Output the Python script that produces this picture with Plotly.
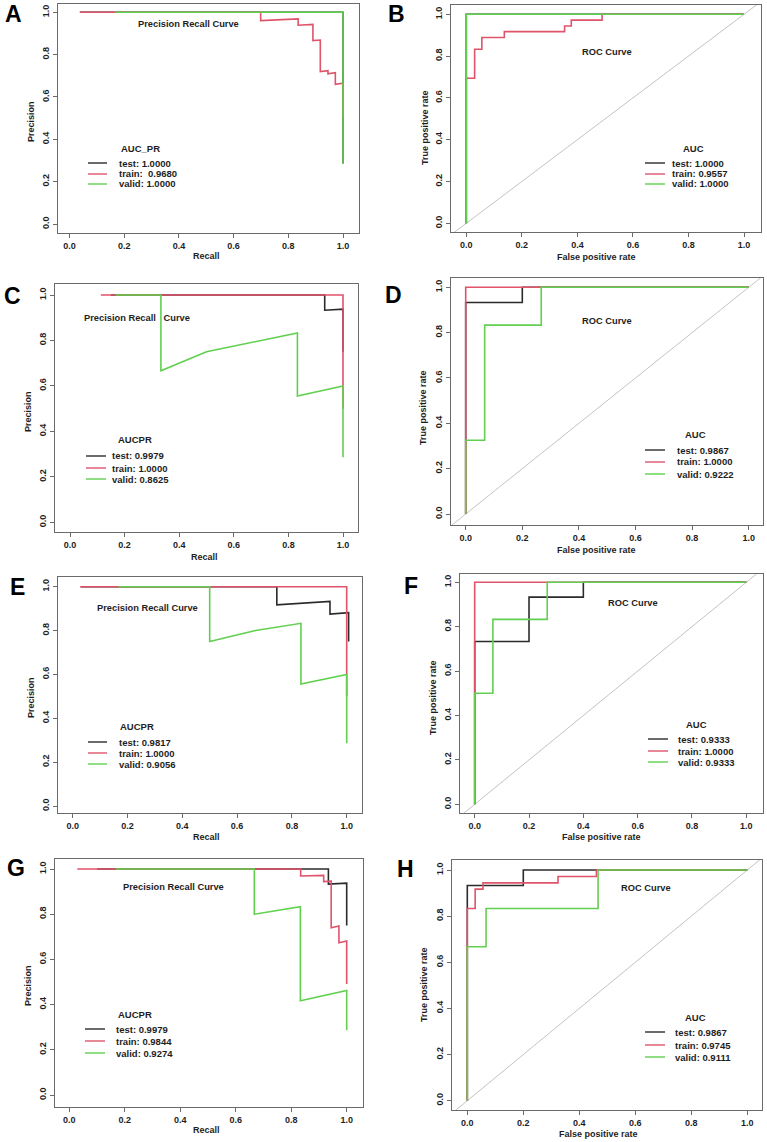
import plotly.graph_objects as go

W, H = 767, 1142

# ---------------- data ----------------
series_names = ["test", "train", "valid"]
tick_vals = [0, 0.2, 0.4, 0.6, 0.8, 1.0]
tick_text = ["0.0", "0.2", "0.4", "0.6", "0.8", "1.0"]
panel_letters = ["A", "B", "C", "D", "E", "F", "G", "H"]
panel_kinds = ["pr", "roc", "pr", "roc", "pr", "roc", "pr", "roc"]
panel_titles = ["Precision Recall Curve", "ROC Curve", "Precision Recall\u00a0\u00a0\u00a0Curve", "ROC Curve",
                "Precision Recall Curve", "ROC Curve", "Precision Recall Curve", "ROC Curve"]
legend_titles = ["AUC_PR", "AUC", "AUCPR", "AUC", "AUCPR", "AUC", "AUCPR", "AUC"]

# Panel A (PR)
a_test_x = [0.038, 1.0, 1.0]
a_test_y = [1.0, 1.0, 0.286]
a_train_x = [0.038, 0.699, 0.699, 0.836, 0.836, 0.890, 0.890, 0.917, 0.917, 0.945, 0.945, 0.972, 0.972, 1.0, 1.0]
a_train_y = [1.0, 1.0, 0.961, 0.969, 0.939, 0.943, 0.866, 0.869, 0.720, 0.724, 0.709, 0.715, 0.660, 0.665, 0.50]
a_valid_x = [0.167, 1.0, 1.0]
a_valid_y = [1.0, 1.0, 0.286]
a_auc = ["1.0000", "\u00a00.9680", "1.0000"]

# Panel B (ROC)
b_test_x = [0, 0, 1]
b_test_y = [0, 1, 1]
b_train_x = [0, 0, 0.030, 0.030, 0.056, 0.056, 0.137, 0.137, 0.354, 0.354, 0.378, 0.378, 0.489, 0.489, 1.0]
b_train_y = [0, 0.694, 0.694, 0.833, 0.833, 0.889, 0.889, 0.917, 0.917, 0.944, 0.944, 0.972, 0.972, 1.0, 1.0]
b_valid_x = [0, 0, 1]
b_valid_y = [0, 1, 1]
b_auc = ["1.0000", "0.9557", "1.0000"]

# Panel C (PR)
c_test_x = [0.15, 0.933, 0.933, 1.0, 1.0]
c_test_y = [1.0, 1.0, 0.933, 0.9375, 0.75]
c_train_x = [0.113, 1.0, 1.0]
c_train_y = [1.0, 1.0, 0.50]
c_valid_x = [0.167, 0.333, 0.333, 0.5, 0.833, 0.833, 1.0, 1.0]
c_valid_y = [1.0, 1.0, 0.667, 0.75, 0.833, 0.556, 0.6, 0.286]
c_auc = ["0.9979", "1.0000", "0.8625"]

# Panel D (ROC)
d_test_x = [0, 0, 0.2, 0.2, 1]
d_test_y = [0, 0.933, 0.933, 1, 1]
d_train_x = [0, 0, 1]
d_train_y = [0, 1, 1]
d_valid_x = [0, 0, 0.067, 0.067, 0.267, 0.267, 1]
d_valid_y = [0, 0.325, 0.325, 0.833, 0.833, 1, 1]
d_auc = ["0.9867", "1.0000", "0.9222"]

# Panel E (PR)
e_test_x = [0.03, 0.745, 0.745, 0.939, 0.939, 1.007, 1.007]
e_test_y = [1.0, 1.0, 0.917, 0.933, 0.875, 0.882, 0.75]
e_train_x = [0.027, 1.0, 1.0]
e_train_y = [1.0, 1.0, 0.50]
e_valid_x = [0.167, 0.5, 0.5, 0.667, 0.833, 0.833, 1.0, 1.0]
e_valid_y = [1.0, 1.0, 0.75, 0.8, 0.833, 0.556, 0.6, 0.286]
e_auc = ["0.9817", "1.0000", "0.9056"]

# Panel F (ROC)
f_test_x = [0, 0, 0.2, 0.2, 0.4, 0.4, 1]
f_test_y = [0, 0.733, 0.733, 0.933, 0.933, 1, 1]
f_train_x = [0, 0, 1]
f_train_y = [0, 1, 1]
f_valid_x = [0, 0, 0.067, 0.067, 0.267, 0.267, 1]
f_valid_y = [0, 0.5, 0.5, 0.833, 0.833, 1, 1]
f_auc = ["0.9333", "1.0000", "0.9333"]

# Panel G (PR)
g_test_x = [0.1, 0.934, 0.934, 1.0, 1.0]
g_test_y = [1.0, 1.0, 0.933, 0.9375, 0.75]
g_train_x = [0.029, 0.834, 0.834, 0.917, 0.917, 0.944, 0.944, 0.972, 0.972, 1.0, 1.0]
g_train_y = [1.0, 1.0, 0.969, 0.972, 0.944, 0.946, 0.740, 0.748, 0.674, 0.681, 0.491]
g_valid_x = [0.167, 0.667, 0.667, 0.833, 0.833, 1.0, 1.0]
g_valid_y = [1.0, 1.0, 0.8, 0.833, 0.417, 0.462, 0.286]
g_auc = ["0.9979", "0.9844", "0.9274"]

# Panel H (ROC)
h_test_x = [0, 0, 0.2, 0.2, 1]
h_test_y = [0, 0.933, 0.933, 1, 1]
h_train_x = [0, 0, 0.028, 0.028, 0.056, 0.056, 0.324, 0.324, 0.461, 0.461, 1]
h_train_y = [0, 0.833, 0.833, 0.917, 0.917, 0.944, 0.944, 0.972, 0.972, 1, 1]
h_valid_x = [0, 0, 0.067, 0.067, 0.467, 0.467, 1]
h_valid_y = [0, 0.667, 0.667, 0.833, 0.833, 1, 1]
h_auc = ["0.9867", "0.9745", "0.9111"]

panel_series = [
    [(a_test_x, a_test_y), (a_train_x, a_train_y), (a_valid_x, a_valid_y)],
    [(b_test_x, b_test_y), (b_train_x, b_train_y), (b_valid_x, b_valid_y)],
    [(c_test_x, c_test_y), (c_train_x, c_train_y), (c_valid_x, c_valid_y)],
    [(d_test_x, d_test_y), (d_train_x, d_train_y), (d_valid_x, d_valid_y)],
    [(e_test_x, e_test_y), (e_train_x, e_train_y), (e_valid_x, e_valid_y)],
    [(f_test_x, f_test_y), (f_train_x, f_train_y), (f_valid_x, f_valid_y)],
    [(g_test_x, g_test_y), (g_train_x, g_train_y), (g_valid_x, g_valid_y)],
    [(h_test_x, h_test_y), (h_train_x, h_train_y), (h_valid_x, h_valid_y)],
]
panel_aucs = [a_auc, b_auc, c_auc, d_auc, e_auc, f_auc, g_auc, h_auc]

# ---------------- layout / style (pixels) ----------------
colors = ["#2b2b2b", "#DF536B", "#61D04F"]
diag_color = "#b4b4b4"
frame_color = "#6a6a6a"
txt_color = "#1e1e1e"
FONT = "Liberation Sans, Arial, sans-serif"

# box: left, right, top, bottom ; calibration: px of x=0, x=1, y=1, y=0
boxes = [
    (58, 359, 4, 233, 69.5, 343, 12.3, 224),
    (451, 761, 5, 232, 466.3, 744, 14.3, 223.3),
    (55, 358, 284, 532, 70, 343, 295, 522.3),
    (451, 763, 278, 525, 465.7, 748.7, 287.3, 514),
    (58, 362, 577, 813, 72.7, 346.7, 586.7, 806),
    (459.7, 763, 574, 813, 474.7, 746.3, 582.3, 804.3),
    (55, 363, 859, 1106.7, 69.3, 346.7, 869, 1095),
    (452, 762.3, 860, 1110, 467.3, 747.3, 870, 1100.7),
]
letter_pos = [(14, 14), (396, 14), (12, 296), (393, 295), (17, 587), (411, 586), (16, 868), (406, 869)]
title_pos = [(188, 24), (607, 52), (137, 318), (607, 321), (147, 608), (633, 603), (173, 887), (646, 888)]
# legend: title center (x,y), line x0, x1, label x, row ys
legend_pos = [
    ((140, 148), 88, 107, 117, (163, 174, 184)),
    ((693, 148), 645, 665, 670, (163, 174, 184)),
    ((135, 440), 86, 106, 110, (456, 468, 479)),
    ((695, 434), 645, 665, 675, (450, 462, 474)),
    ((137, 726), 88, 107, 117, (742, 753, 764)),
    ((696, 724), 648, 668, 676, (739, 751, 762)),
    ((135, 1014), 85, 105, 114, (1029, 1041, 1053)),
    ((695, 1017), 645, 665, 673, (1032, 1045, 1057)),
]
# axis titles: (xtitle center x, y), (ytitle x, center y)
axis_title_pos = [
    ((207, 256), (31, 122)),
    ((596, 257), (425, 127)),
    ((205, 557), (28, 411)),
    ((596, 550), (423, 408)),
    ((207, 837), (31, 698)),
    ((601, 837), (433, 697)),
    ((206, 1130), (28, 985)),
    ((598, 1134), (424, 985)),
]


def PX(x):
    return x / W


def PY(y):
    return 1 - y / H


fig = go.Figure()
annotations = []
shapes = []

for k in range(8):
    n = "" if k == 0 else str(k + 1)
    L, R, T, B, x0, x1, y1, y0 = boxes[k]
    xr = [(L - x0) / (x1 - x0), (R - x0) / (x1 - x0)]
    yr = [(y0 - B) / (y0 - y1), (y0 - T) / (y0 - y1)]
    axcommon = dict(
        showline=True, mirror=True, linecolor=frame_color, linewidth=1,
        ticks="outside", ticklen=4, tickcolor=frame_color, tickwidth=1,
        tickvals=tick_vals, ticktext=tick_text,
        tickfont=dict(family=FONT, size=9, color=txt_color, weight="bold"),
        showgrid=False, zeroline=False, fixedrange=True,
    )
    fig.layout["xaxis" + n] = dict(axcommon, domain=[PX(L), PX(R)], range=xr, anchor="y" + n)
    fig.layout["yaxis" + n] = dict(axcommon, domain=[PY(B), PY(T)], range=yr, anchor="x" + n, tickangle=-90)

    if panel_kinds[k] == "roc":
        fig.add_trace(go.Scatter(x=[-0.2, 1.2], y=[-0.2, 1.2], mode="lines",
                                 line=dict(color=diag_color, width=0.8),
                                 xaxis="x" + n, yaxis="y" + n, showlegend=False, hoverinfo="skip"))
    for s, (sx, sy) in enumerate(panel_series[k]):
        fig.add_trace(go.Scatter(x=sx, y=sy, mode="lines", name=series_names[s],
                                 line=dict(color=colors[s], width=1.6),
                                 xaxis="x" + n, yaxis="y" + n, showlegend=False))

    # panel letter
    lx, ly = letter_pos[k]
    annotations.append(dict(x=PX(lx), y=PY(ly), xref="paper", yref="paper", text=panel_letters[k],
                            showarrow=False, xanchor="center", yanchor="middle",
                            font=dict(family=FONT, size=23, color="#000", weight="bold")))
    # plot title
    tx, ty = title_pos[k]
    annotations.append(dict(x=PX(tx), y=PY(ty), xref="paper", yref="paper", text=panel_titles[k],
                            showarrow=False, xanchor="center", yanchor="middle",
                            font=dict(family=FONT, size=9.3, color=txt_color, weight="bold")))
    # legend
    (ltx, lty), lx0, lx1, lbx, rows = legend_pos[k]
    annotations.append(dict(x=PX(ltx), y=PY(lty), xref="paper", yref="paper", text=legend_titles[k],
                            showarrow=False, xanchor="center", yanchor="middle",
                            font=dict(family=FONT, size=9.5, color=txt_color, weight="bold")))
    for s in range(3):
        shapes.append(dict(type="line", xref="paper", yref="paper",
                           x0=PX(lx0), x1=PX(lx1), y0=PY(rows[s]), y1=PY(rows[s]),
                           line=dict(color=colors[s], width=1.4)))
        annotations.append(dict(x=PX(lbx), y=PY(rows[s]), xref="paper", yref="paper",
                                text=f"{series_names[s]}: {panel_aucs[k][s]}",
                                showarrow=False, xanchor="left", yanchor="middle",
                                font=dict(family=FONT, size=9.5, color=txt_color, weight="bold")))
    # axis titles
    (axx, axy), (ayx, ayy) = axis_title_pos[k]
    xt = "Recall" if panel_kinds[k] == "pr" else "False positive rate"
    yt = "Precision" if panel_kinds[k] == "pr" else "True positive rate"
    annotations.append(dict(x=PX(axx), y=PY(axy), xref="paper", yref="paper", text=xt,
                            showarrow=False, xanchor="center", yanchor="middle",
                            font=dict(family=FONT, size=9, color=txt_color, weight="bold")))
    annotations.append(dict(x=PX(ayx), y=PY(ayy), xref="paper", yref="paper", text=yt,
                            showarrow=False, xanchor="center", yanchor="middle", textangle=-90,
                            font=dict(family=FONT, size=9, color=txt_color, weight="bold")))

fig.update_layout(
    width=W, height=H, margin=dict(l=0, r=0, t=0, b=0),
    paper_bgcolor="white", plot_bgcolor="white",
    annotations=annotations, shapes=shapes, showlegend=False,
)

fig.write_html("out.html", config={"displayModeBar": False})
